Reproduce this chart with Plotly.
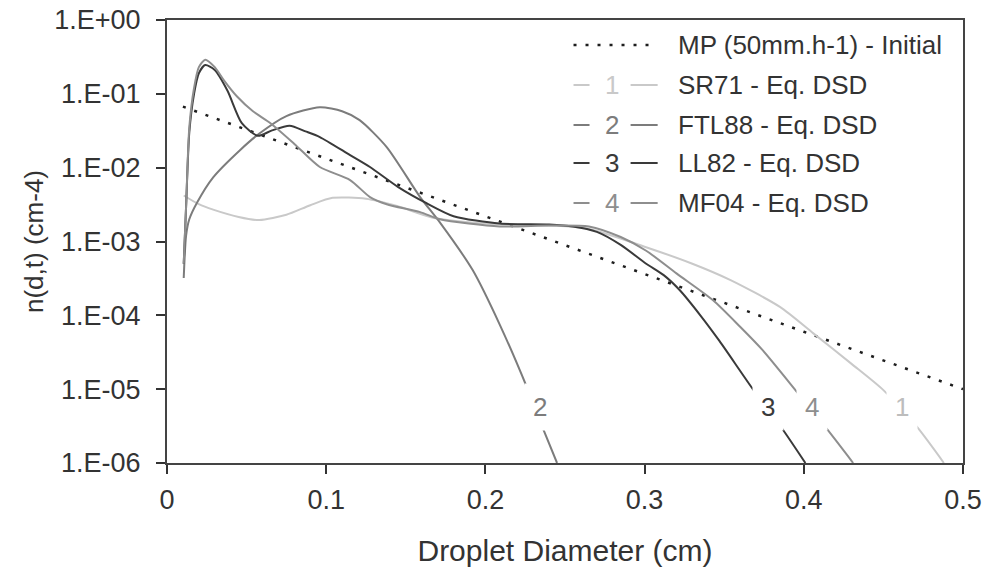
import plotly.graph_objects as go

# ---------------- data ----------------
mp_d = [0.01, 0.1, 0.2, 0.3, 0.4, 0.5]
mp_n = [0.067, 0.0132, 2.2e-3, 3.6e-4, 6.0e-5, 1.0e-5]

sr71_d = [0.0105, 0.02, 0.029, 0.045, 0.058, 0.075, 0.09, 0.104, 0.125, 0.145,
          0.167, 0.2, 0.24, 0.264, 0.3, 0.33, 0.354, 0.385, 0.406, 0.43, 0.45,
          0.471, 0.488]
sr71_n = [4.2e-3, 3.2e-3, 2.7e-3, 2.15e-3, 1.95e-3, 2.3e-3, 3.1e-3, 3.9e-3, 3.8e-3,
          3.0e-3, 2.1e-3, 1.75e-3, 1.65e-3, 1.5e-3, 8.5e-4, 5.0e-4, 3.0e-4, 1.3e-4,
          5.7e-5, 2.2e-5, 9.7e-6, 3.1e-6, 1.0e-6]

ftl_d = [0.0105, 0.012, 0.014, 0.019, 0.029, 0.046, 0.058, 0.075, 0.096, 0.11,
         0.121, 0.138, 0.159, 0.1715, 0.192, 0.209, 0.226, 0.236, 0.245]
ftl_n = [3.2e-4, 1.2e-3, 2.0e-3, 3.4e-3, 7.4e-3, 0.0174, 0.029, 0.05, 0.066, 0.058,
         0.044, 0.019, 4.0e-3, 1.8e-3, 4.1e-4, 7.5e-5, 1.07e-5, 3.0e-6, 1.0e-6]

ll_d = [0.0105, 0.012, 0.014, 0.017, 0.02, 0.024, 0.03, 0.038, 0.047, 0.057, 0.066,
        0.077, 0.087, 0.096, 0.115, 0.1275, 0.145, 0.163, 0.18, 0.209, 0.24, 0.255,
        0.27, 0.285, 0.301, 0.312, 0.322, 0.335, 0.347, 0.368, 0.387, 0.401]
ll_n = [5e-4, 3e-3, 0.03, 0.1, 0.19, 0.245, 0.21, 0.11, 0.04, 0.027, 0.032, 0.037,
        0.031, 0.026, 0.0148, 0.0102, 5.5e-3, 3.3e-3, 2.2e-3, 1.75e-3, 1.7e-3, 1.6e-3,
        1.35e-3, 9e-4, 5e-4, 3.5e-4, 2.2e-4, 1.0e-4, 4.5e-5, 1.0e-5, 2.8e-6, 1.0e-6]

mf_d = [0.0105, 0.012, 0.014, 0.017, 0.02, 0.024, 0.03, 0.036, 0.044, 0.054, 0.065,
        0.08, 0.096, 0.115, 0.1275, 0.138, 0.159, 0.1715, 0.209, 0.24, 0.265, 0.285,
        0.301, 0.32, 0.343, 0.36, 0.374, 0.396, 0.415, 0.431]
mf_n = [5e-4, 3e-3, 0.035, 0.12, 0.23, 0.29, 0.23, 0.15, 0.092, 0.058, 0.04, 0.021,
        0.0102, 6.8e-3, 4.0e-3, 3.2e-3, 2.5e-3, 2.0e-3, 1.6e-3, 1.65e-3, 1.6e-3,
        1.15e-3, 7.5e-4, 3.7e-4, 1.6e-4, 7e-5, 3.4e-5, 9e-6, 2.8e-6, 1.0e-6]

series_names = ["MP (50mm.h-1) - Initial", "SR71 - Eq. DSD", "FTL88 - Eq. DSD",
                "LL82 - Eq. DSD", "MF04 - Eq. DSD"]
curve_numbers = ["1", "2", "3", "4"]
label_x = [0.4617, 0.234, 0.3775, 0.405]   # where the curve numbers sit
label_logy = -5.24

x_ticks = [0, 0.1, 0.2, 0.3, 0.4, 0.5]
x_ticktext = ["0", "0.1", "0.2", "0.3", "0.4", "0.5"]
y_ticks = [1, 1e-1, 1e-2, 1e-3, 1e-4, 1e-5, 1e-6]
y_ticktext = ["1.E+00", "1.E-01", "1.E-02", "1.E-03", "1.E-04", "1.E-05", "1.E-06"]

# ---------------- styling ----------------
FONT = "Liberation Sans, Arial, sans-serif"
TXT = "#333333"
colors = ["#c9c9c9", "#7c7c7c", "#3a3a3a", "#8e8e8e"]

fig = go.Figure()

fig.add_trace(go.Scatter(x=mp_d, y=mp_n, mode="lines", name=series_names[0],
                         line=dict(color="#1e1e1e", width=2.5, dash="3px,9px")))

curves = [(sr71_d, sr71_n), (ftl_d, ftl_n), (ll_d, ll_n), (mf_d, mf_n)]
for i, (d, n) in enumerate(curves):
    fig.add_trace(go.Scatter(x=d, y=n, mode="lines", name=series_names[i + 1],
                             line=dict(color=colors[i], width=2,
                                       shape="spline", smoothing=0.7)))

# curve numbers on the lines (white background makes the gap)
for i, num in enumerate(curve_numbers):
    fig.add_annotation(x=label_x[i], y=label_logy, xref="x", yref="y", text=num,
                       showarrow=False, bgcolor="white", borderpad=8,
                       xanchor="center", yanchor="middle",
                       font=dict(family=FONT, size=26,
                                 color=colors[i] if i != 0 else "#bdbdbd"))

# ---------------- manual legend ----------------
row_y = [0.9436, 0.8533, 0.763, 0.6772, 0.5869]
fig.add_shape(type="line", xref="paper", yref="paper", x0=0.5107, x1=0.6138,
              y0=row_y[0], y1=row_y[0],
              line=dict(color="#1e1e1e", width=2.5, dash="3px,9px"))
for i in range(4):
    y = row_y[i + 1]
    fig.add_shape(type="line", xref="paper", yref="paper", x0=0.5107, x1=0.5308,
                  y0=y, y1=y, line=dict(color=colors[i], width=2))
    fig.add_shape(type="line", xref="paper", yref="paper", x0=0.5824, x1=0.6164,
                  y0=y, y1=y, line=dict(color=colors[i], width=2))
    fig.add_annotation(x=0.5585, y=y, xref="paper", yref="paper",
                       text=curve_numbers[i], showarrow=False,
                       xanchor="center", yanchor="middle",
                       font=dict(family=FONT, size=26, color=colors[i]))
for i, name in enumerate(series_names):
    fig.add_annotation(x=0.639, y=row_y[i], xref="paper", yref="paper",
                       text=name, showarrow=False, xanchor="left", yanchor="middle",
                       font=dict(family=FONT, size=26, color=TXT))

fig.update_layout(
    width=984, height=578,
    margin=dict(l=167, r=21, t=20, b=115),
    paper_bgcolor="white", plot_bgcolor="white",
    showlegend=False,
    font=dict(family=FONT, color=TXT),
)
fig.update_xaxes(range=[0, 0.5], tickvals=x_ticks, ticktext=x_ticktext,
                 automargin=False,
                 ticks="outside", ticklen=9, tickwidth=2, tickcolor="#333",
                 ticklabelstandoff=3,
                 showline=True, linecolor="#444", linewidth=2, mirror=True,
                 showgrid=False, zeroline=False,
                 tickfont=dict(family=FONT, size=27, color=TXT),
                 title=dict(text="Droplet Diameter (cm)", standoff=26,
                            font=dict(family=FONT, size=30, color=TXT)))
fig.update_yaxes(type="log", range=[-6, 0], tickvals=y_ticks, ticktext=y_ticktext,
                 automargin=False,
                 ticks="outside", ticklen=9, tickwidth=2, tickcolor="#333",
                 ticklabelstandoff=10,
                 showline=True, linecolor="#444", linewidth=2, mirror=True,
                 showgrid=False, zeroline=False,
                 tickfont=dict(family=FONT, size=27, color=TXT),
                 title=dict(text="n(d,t) (cm-4)", standoff=3,
                            font=dict(family=FONT, size=26, color=TXT)))

fig.write_html("out.html")
